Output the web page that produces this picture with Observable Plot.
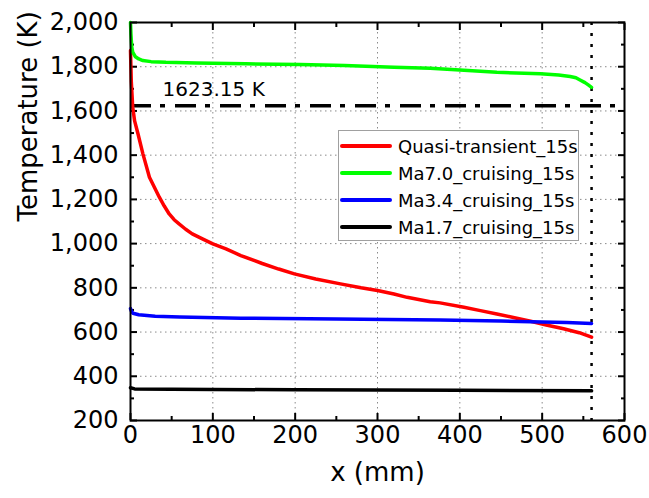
<!DOCTYPE html>
<html>
<head>
<meta charset="utf-8">
<script src="https://cdn.jsdelivr.net/npm/d3@7"></script>
<script src="https://cdn.jsdelivr.net/npm/@observablehq/plot@0.6"></script>
<style>
  html, body { margin: 0; padding: 0; background: #fff; }
  #wrap { position: relative; width: 649px; height: 498px; font-family: "DejaVu Sans", Verdana, sans-serif; }
  #legend { position: absolute; left: 338px; top: 130px; width: 241px; height: 111px; border: 1px solid #a0a0a0; background: #fff; box-sizing: border-box; }
  .row { position: absolute; left: 1px; height: 20px; display: flex; align-items: center; font-size: 18px; color: #000; white-space: nowrap; }
  .sw { width: 52px; height: 4px; border-radius: 2px; margin-right: 6px; }
</style>
</head>
<body>
<div id="wrap"></div>
<script>
// ---- data ----
const seriesNames = ["Quasi-transient_15s", "Ma7.0_cruising_15s", "Ma3.4_cruising_15s", "Ma1.7_cruising_15s"];
const seriesColors = ["#ff0000", "#00ff00", "#0000ff", "#000000"];

const xRed = [0, 1, 2.7, 5, 9, 15, 23, 29, 35, 41, 47, 53, 59, 67, 75, 88, 100, 116, 134, 160, 180, 199, 225, 255, 280, 300, 320, 336, 364, 376, 405, 425, 445, 465, 486, 505, 526, 545, 560];
const tRed = [1873, 1730, 1617, 1555, 1498, 1407, 1300, 1255, 1210, 1170, 1134, 1108, 1089, 1065, 1044, 1020, 999, 976, 946, 910, 885, 863, 840, 818, 800, 788, 772, 757, 737, 732, 712, 697, 682, 666, 649, 632, 615, 597, 577];

const xGreen = [0, 0.5, 1.5, 2.7, 6, 10, 15, 25, 43, 80, 140, 206, 260, 320, 364, 400, 445, 498, 520, 534, 541, 546, 552, 556, 560];
const tGreen = [2000, 1950, 1890, 1866, 1845, 1835, 1828, 1823, 1820, 1817, 1813, 1810, 1805, 1798, 1793, 1785, 1775, 1768, 1763, 1756, 1750, 1740, 1728, 1718, 1707];

const xBlue = [0, 1, 3, 10, 30, 60, 134, 250, 376, 450, 500, 530, 560];
const tBlue = [706, 695, 685, 678, 672, 668, 663, 659, 654, 650, 646, 643, 639];

const xBlack = [0, 5, 50, 200, 400, 560];
const tBlack = [348, 343, 341, 339, 337, 334];

const xMajor = [0, 100, 200, 300, 400, 500, 600];
const xMinor = [50, 150, 250, 350, 450, 550];
const yMajor = [200, 400, 600, 800, 1000, 1200, 1400, 1600, 1800, 2000];
const yMinor = [300, 500, 700, 900, 1100, 1300, 1500, 1700, 1900];
const xGrid = [100, 200, 300, 400, 500];
const yGrid = [400, 600, 800, 1000, 1200, 1400, 1600, 1800];

const limitT = [1623.15];
const limitLabel = ["1623.15 K"];
const limitLabelX = [39];
const endX = [560];

const xLabel = "x (mm)";
const yLabel = "Temperature (K)";

// ---- build ----
const allX = [xRed, xGreen, xBlue, xBlack];
const allT = [tRed, tGreen, tBlue, tBlack];
const rows = [];
seriesNames.forEach((s, i) => allX[i].forEach((x, j) => rows.push({series: s, x, t: allT[i][j]})));

const fmt = d3.format(",");

const tickAxes = (k, ticks, size) => {
  const ax = k === "x" ? Plot.axisX : Plot.axisY;
  if (k === "x") return [
    ax(ticks, {anchor: "bottom", tickSize: size, dy: -size, fill: "none", strokeWidth: 2, label: null}),
    ax(ticks, {anchor: "top", tickSize: size, dy: size, fill: "none", strokeWidth: 2, label: null})
  ];
  return [
    ax(ticks, {anchor: "left", tickSize: size, dx: size, fill: "none", strokeWidth: 2, label: null}),
    ax(ticks, {anchor: "right", tickSize: size, dx: -size, fill: "none", strokeWidth: 2, label: null})
  ];
};

const chart = Plot.plot({
  width: 649,
  height: 498,
  marginLeft: 130,
  marginRight: 25,
  marginTop: 22,
  marginBottom: 78,
  style: {fontFamily: "DejaVu Sans, Verdana, sans-serif", fontSize: "24px", background: "#fff", color: "#000"},
  x: {domain: [0, 600]},
  y: {domain: [200, 2000]},
  marks: [
    Plot.gridX(xGrid, {stroke: "#8a8a8a", strokeOpacity: 1, strokeDasharray: "1.5,3.5", strokeWidth: 1}),
    Plot.gridY(yGrid, {stroke: "#8a8a8a", strokeOpacity: 1, strokeDasharray: "1.5,3.5", strokeWidth: 1}),
    Plot.axisX(xMajor, {anchor: "bottom", tickSize: 0, tickPadding: 5, fontSize: 24, label: null}),
    Plot.axisY(yMajor, {anchor: "left", tickSize: 0, tickPadding: 12, tickFormat: fmt, fontSize: 24, label: null}),
    ...tickAxes("x", xMajor, 7),
    ...tickAxes("x", xMinor, 4),
    ...tickAxes("y", yMajor, 7),
    ...tickAxes("y", yMinor, 4),
    Plot.ruleY(limitT, {stroke: "#000", strokeWidth: 3.5, strokeDasharray: "21,9,5,10"}),
    Plot.ruleX(endX, {stroke: "#000", strokeWidth: 2.5, strokeDasharray: "3,8"}),
    Plot.text(limitLabel, {x: limitLabelX, y: limitT, dy: -16, textAnchor: "start", fontSize: 20, fill: "#000"}),
    ...seriesNames.map((s, i) => Plot.line(rows.filter(r => r.series === s), {x: "x", y: "t", stroke: seriesColors[i], strokeWidth: 3.5, curve: "linear"})),
    Plot.frame({stroke: "#000", strokeWidth: 2}),
    Plot.text([yLabel], {frameAnchor: "left", dx: -102, rotate: -90, fontSize: 26, fill: "#000"}),
    Plot.text([xLabel], {frameAnchor: "bottom", dy: 60, fontSize: 26, fill: "#000"})
  ]
});

const wrap = document.getElementById("wrap");
wrap.appendChild(chart);

const legend = document.createElement("div");
legend.id = "legend";
seriesNames.forEach((s, i) => {
  const row = document.createElement("div");
  row.className = "row";
  row.style.top = (5 + i * 27) + "px";
  const sw = document.createElement("div");
  sw.className = "sw";
  sw.style.background = seriesColors[i];
  const tx = document.createElement("span");
  tx.textContent = s;
  row.appendChild(sw);
  row.appendChild(tx);
  legend.appendChild(row);
});
wrap.appendChild(legend);
</script>
</body>
</html>
